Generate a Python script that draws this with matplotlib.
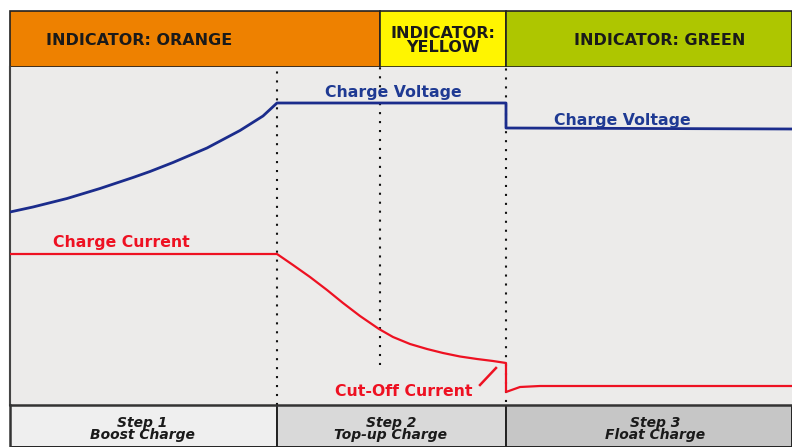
import matplotlib
matplotlib.use("Agg")
import matplotlib.pyplot as plt
from matplotlib.patches import Rectangle

# ---- data (time units, value units) ----
volt_t = [0, 23, 57, 90, 123, 140, 163, 197, 230, 253, 267, 496, 496, 782]
volt_v = [193, 198, 206.5, 216.5, 227.5, 233.5, 242.5, 257, 274.5, 289, 302, 302, 277, 276]

curr_t = [0, 267, 283, 300, 317, 333, 350, 369, 383, 400, 417, 433, 450, 467, 483, 496,
          496, 510, 530, 782]
curr_v = [151, 151, 140, 128, 115, 102, 89, 76, 68, 61, 56, 52, 48.5, 46, 44, 42,
          13, 18, 19, 19]

indicator_edges = [0, 370, 496, 782]
indicator_labels = ["INDICATOR: ORANGE", "INDICATOR:\nYELLOW", "INDICATOR: GREEN"]
indicator_colors = ["#EE8100", "#FFF500", "#AEC600"]

step_edges = [0, 267, 496, 782]
step_labels = ["Step 1\nBoost Charge", "Step 2\nTop-up Charge", "Step 3\nFloat Charge"]
step_colors = ["#EFEFEF", "#D9D9D9", "#C6C6C6"]

divider_t = [267, 370, 496]
divider_bottom = [0, 40, 3]

W, H = 792, 447
fig = plt.figure(figsize=(W / 100, H / 100), dpi=100)
fig.patch.set_facecolor("white")

X0 = 10
XMAX = 782
def frac_x(px): return px / W
def frac_y(py): return 1 - py / H

# top indicator band
ax_top = fig.add_axes([frac_x(X0), frac_y(67), XMAX / W, (67 - 11) / H])
ax_top.set_xlim(0, XMAX); ax_top.set_ylim(0, 1)
ax_top.axis("off")
ind_text_x = [129, 433, 650]
for i in range(3):
    a, b = indicator_edges[i], indicator_edges[i + 1]
    ax_top.add_patch(Rectangle((a, 0), b - a, 1, facecolor=indicator_colors[i],
                               edgecolor="#222222", lw=1.2, clip_on=False))
    ax_top.text(ind_text_x[i], 0.47, indicator_labels[i], ha="center", va="center",
                fontsize=11.5, fontweight="bold", color="#1a1a1a", linespacing=0.9)

# main plot
ax = fig.add_axes([frac_x(X0), frac_y(405), XMAX / W, (405 - 67) / H])
ax.set_xlim(0, XMAX); ax.set_ylim(0, 338)
ax.set_facecolor("#ECEBEA")
for s in ["top", "right", "bottom"]:
    ax.spines[s].set_visible(False)
ax.spines["left"].set_color("#444444")
ax.spines["left"].set_linewidth(1.5)
ax.set_xticks([]); ax.set_yticks([])

for t, b in zip(divider_t, divider_bottom):
    ax.plot([t, t], [b, 338], color="#111111", lw=1.5, ls=(0, (1, 3.3)), zorder=1)

ax.plot(volt_t, volt_v, color="#1B2C8C", lw=2.0, zorder=3)
ax.plot(curr_t, curr_v, color="#EE1122", lw=1.6, zorder=3)

ax.text(383.5, 312, "Charge Voltage", color="#1F3A93", fontsize=11.3, fontweight="bold",
        ha="center", va="center")
ax.text(612, 285, "Charge Voltage", color="#1F3A93", fontsize=11.3, fontweight="bold",
        ha="center", va="center")
ax.text(111.5, 162, "Charge Current", color="#EE1122", fontsize=11.3, fontweight="bold",
        ha="center", va="center")
ax.text(393.5, 14, "Cut-Off Current", color="#EE1122", fontsize=11.3, fontweight="bold",
        ha="center", va="center")
ax.plot([486, 470], [37, 20], color="#EE1122", lw=1.8)

# bottom step band
ax_bot = fig.add_axes([frac_x(X0), 0, XMAX / W, (447 - 405) / H])
ax_bot.set_xlim(0, XMAX); ax_bot.set_ylim(0, 1)
ax_bot.axis("off")
step_text_x = [132.5, 381, 645]
for i in range(3):
    a, b = step_edges[i], step_edges[i + 1]
    ax_bot.add_patch(Rectangle((a, 0), b - a, 1.3, facecolor=step_colors[i],
                               edgecolor="#222222", lw=1.4, clip_on=True))
    ax_bot.text(step_text_x[i], 0.43, step_labels[i], ha="center", va="center",
                fontsize=10, fontweight="bold", fontstyle="italic", color="#1a1a1a",
                linespacing=0.82)
ax_bot.plot([0, XMAX], [1, 1], color="#333333", lw=1.8, clip_on=False)
ax_bot.plot([0, 0], [0, 1], color="#333333", lw=1.8, clip_on=False)

fig.savefig("out.png", dpi=100, facecolor="white")
